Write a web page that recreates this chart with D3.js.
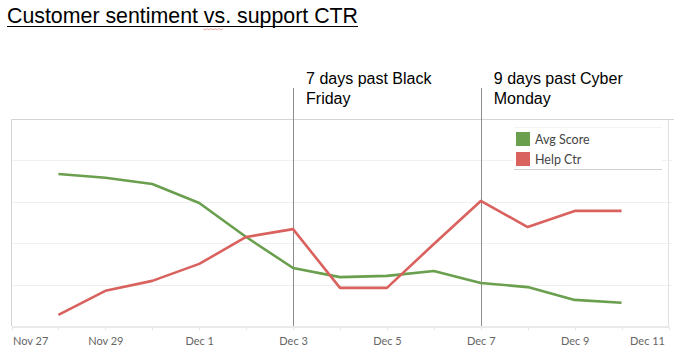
<!DOCTYPE html>
<html>
<head>
<meta charset="utf-8">
<script src="https://cdn.jsdelivr.net/npm/d3@7"></script>
<style>
  body { margin: 0; background: #fff; }
  svg { display: block; }
</style>
</head>
<body>
<div id="container"></div>
<script>
// chart values
const days = ['2015-11-28', '2015-11-29', '2015-11-30', '2015-12-01', '2015-12-02', '2015-12-03',
    '2015-12-04', '2015-12-05', '2015-12-06', '2015-12-07', '2015-12-08', '2015-12-09', '2015-12-10'];
const avgScore = [3.67, 3.58, 3.43, 2.97, 2.15, 1.40, 1.18, 1.21, 1.33, 1.04, 0.94, 0.63, 0.56];
const helpCtr = [0.27, 0.85, 1.09, 1.50, 2.15, 2.34, 0.92, 0.92, 1.98, 3.02, 2.39, 2.78, 2.78];
const tickDates = ['2015-11-27', '2015-11-29', '2015-12-01', '2015-12-03', '2015-12-05', '2015-12-07', '2015-12-09', '2015-12-11'];
const seriesNames = ['Avg Score', 'Help Ctr'];
const seriesColors = ['#6a9f4e', '#d9625e'];
const annotations = [
    { date: '2015-12-03', lines: ['7 days past Black', 'Friday'] },
    { date: '2015-12-07', lines: ['9 days past Cyber', 'Monday'] }
];

const w = 676;
const h = 354;
const parse = d3.timeParse('%Y-%m-%d');

const svg = d3.select('#container').append('svg')
    .attr('width', w)
    .attr('height', h);

const x = d3.scaleTime()
    .domain([parse('2015-11-27'), parse('2015-12-11')])
    .range([11.5, 668.5]);

const y = d3.scaleLinear()
    .domain([0, 5])
    .range([326, 119]);

// title
svg.append('text')
    .attr('x', 7)
    .attr('y', 23)
    .attr('font-family', 'Liberation Sans, Arial, sans-serif')
    .attr('font-size', '21.3px')
    .attr('fill', '#000')
    .attr('textLength', 351)
    .attr('lengthAdjust', 'spacingAndGlyphs')
    .text('Customer sentiment vs. support CTR');

svg.append('line')
    .attr('x1', 7).attr('x2', 358)
    .attr('y1', 26.5).attr('y2', 26.5)
    .attr('stroke', '#000')
    .attr('stroke-width', 1.2);

// little spell-check squiggle under "vs."
svg.append('path')
    .attr('d', d3.range(0, 11).map((i) => `${i === 0 ? 'M' : 'L'}${203 + i * 2},${i % 2 ? 30 : 28.5}`).join(''))
    .attr('fill', 'none')
    .attr('stroke', '#e08080')
    .attr('stroke-width', 0.7);

// grid
const grid = svg.append('g');
grid.selectAll('line.grid')
    .data([1, 2, 3, 4])
    .join('line')
    .attr('class', 'grid')
    .attr('x1', x.range()[0]).attr('x2', x.range()[1])
    .attr('y1', d => Math.round(y(d)) + 0.5).attr('y2', d => Math.round(y(d)) + 0.5)
    .attr('stroke', '#f0f0f0');

grid.append('line')
    .attr('x1', x.range()[0]).attr('x2', 674)
    .attr('y1', 119.5).attr('y2', 119.5)
    .attr('stroke', '#d4d4d4');

grid.append('line')
    .attr('x1', x.range()[0]).attr('x2', x.range()[0])
    .attr('y1', 119.5).attr('y2', 326)
    .attr('stroke', '#d4d4d4');

grid.append('line')
    .attr('x1', x.range()[1]).attr('x2', x.range()[1])
    .attr('y1', 119.5).attr('y2', 326)
    .attr('stroke', '#e0e0e0');

// right side tiny ticks
grid.selectAll('line.rtick')
    .data([1, 2, 3, 4])
    .join('line')
    .attr('class', 'rtick')
    .attr('x1', x.range()[1]).attr('x2', x.range()[1] + 4)
    .attr('y1', d => Math.round(y(d)) + 0.5).attr('y2', d => Math.round(y(d)) + 0.5)
    .attr('stroke', '#eee');

// x axis
const xAxis = d3.axisBottom(x)
    .tickValues(tickDates.map(parse))
    .tickSize(0)
    .tickPadding(11)
    .tickFormat(d3.timeFormat('%b %-d'));

const axisG = svg.append('g')
    .attr('transform', `translate(0, ${y(0) + 0.5})`)
    .call(xAxis);

axisG.select('.domain')
    .attr('stroke', '#d4d4d4');

axisG.selectAll('.tick text')
    .attr('font-family', 'Lato, sans-serif')
    .attr('font-size', '11px')
    .attr('fill', '#666')
    .attr('text-anchor', (d, i) => i === 0 ? 'start' : i === tickDates.length - 1 ? 'end' : 'middle')
    .attr('dx', (d, i) => i === 0 ? 1 : i === tickDates.length - 1 ? -4 : 0);

// minor day ticks
svg.append('g')
    .selectAll('line')
    .data(d3.timeDay.range(parse('2015-11-27'), parse('2015-12-12')))
    .join('line')
    .attr('x1', d => Math.round(x(d)) + 0.5).attr('x2', d => Math.round(x(d)) + 0.5)
    .attr('y1', y(0) + 1).attr('y2', y(0) + 4)
    .attr('stroke', '#e6e6e6');

// annotation lines
const ann = svg.append('g');
ann.selectAll('line')
    .data(annotations)
    .join('line')
    .attr('x1', d => Math.round(x(parse(d.date))) + 0.5)
    .attr('x2', d => Math.round(x(parse(d.date))) + 0.5)
    .attr('y1', 88).attr('y2', y(0))
    .attr('stroke', '#8c8c8c')
    .attr('stroke-width', 1);

ann.selectAll('text')
    .data(annotations)
    .join('text')
    .attr('x', d => x(parse(d.date)) + 13)
    .attr('y', 84)
    .attr('font-family', 'Liberation Sans, Arial, sans-serif')
    .attr('font-size', '16px')
    .attr('fill', '#000')
    .selectAll('tspan')
    .data(d => d.lines.map(l => ({ l, x: x(parse(d.date)) + 13 })))
    .join('tspan')
    .attr('x', d => d.x)
    .attr('dy', (d, i) => i === 0 ? 0 : 20)
    .text(d => d.l);

// lines
const series = [avgScore, helpCtr];
const lineGen = d3.line()
    .x((d, i) => x(parse(days[i])))
    .y(d => y(d));

svg.append('g')
    .selectAll('path')
    .data(series)
    .join('path')
    .attr('d', lineGen)
    .attr('fill', 'none')
    .attr('stroke', (d, i) => seriesColors[i])
    .attr('stroke-width', 2.6)
    .attr('stroke-linejoin', 'round');

// legend
const legend = svg.append('g')
    .attr('transform', 'translate(514, 127)');

legend.append('rect')
    .attr('x', 0).attr('y', 0)
    .attr('width', 148).attr('height', 42)
    .attr('fill', '#fff');

legend.append('line')
    .attr('x1', 0).attr('x2', 148)
    .attr('y1', 0.5).attr('y2', 0.5)
    .attr('stroke', '#f4f4f4');

legend.append('line')
    .attr('x1', 0).attr('x2', 148)
    .attr('y1', 42.5).attr('y2', 42.5)
    .attr('stroke', '#d0d0d0');

const item = legend.selectAll('g.item')
    .data(seriesNames)
    .join('g')
    .attr('class', 'item')
    .attr('transform', (d, i) => `translate(2, ${5 + i * 20})`);

item.append('rect')
    .attr('width', 14).attr('height', 14)
    .attr('fill', (d, i) => seriesColors[i]);

item.append('text')
    .attr('x', 19)
    .attr('y', 12)
    .attr('font-family', 'Lato, sans-serif')
    .attr('font-size', '12.5px')
    .attr('fill', '#444')
    .text(d => d);
</script>
</body>
</html>
